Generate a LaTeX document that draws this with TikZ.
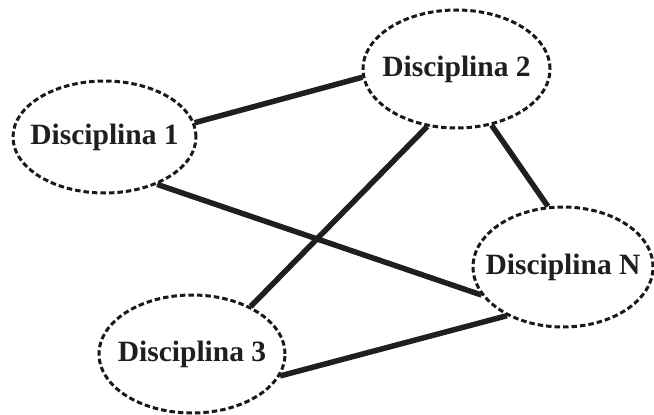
\documentclass[tikz,border=0pt]{standalone}
\usepackage{fontspec}
\setmainfont{Liberation Serif}
\usetikzlibrary{shapes.geometric}
\begin{document}
\begin{tikzpicture}[x=1pt,y=-1pt,
  disc/.style={ellipse, draw=black!90, line width=3pt,
    dash pattern=on 5.5pt off 3pt, inner sep=0pt,
    label={[font=\fontsize{29.5}{31}\selectfont\bfseries, text=black!88]center:#1}},
  link/.style={line width=5.5pt, draw=black!88}]
  \useasboundingbox (0,0) rectangle (654,415);
  \node[disc={Disciplina 1}, minimum width=183pt, minimum height=112pt] (d1) at (104.5,137) {};
  \node[disc={Disciplina 2}, minimum width=187pt, minimum height=118pt] (d2) at (456.5,69) {};
  \node[disc={Disciplina N}, minimum width=180pt, minimum height=120pt] (dn) at (563,267) {};
  \node[disc={Disciplina 3}, minimum width=186pt, minimum height=118pt] (d3) at (192,354) {};
  \draw[link] (d1.9) -- (d2.185.6);
  \draw[link] (d1.-42) -- (dn.199.5);
  \draw[link] (d2.243) -- (d3.39.4);
  \draw[link] (d2.302) -- (dn.104.7);
  \draw[link] (d3.-14.3) -- (dn.221);
\end{tikzpicture}
\end{document}
